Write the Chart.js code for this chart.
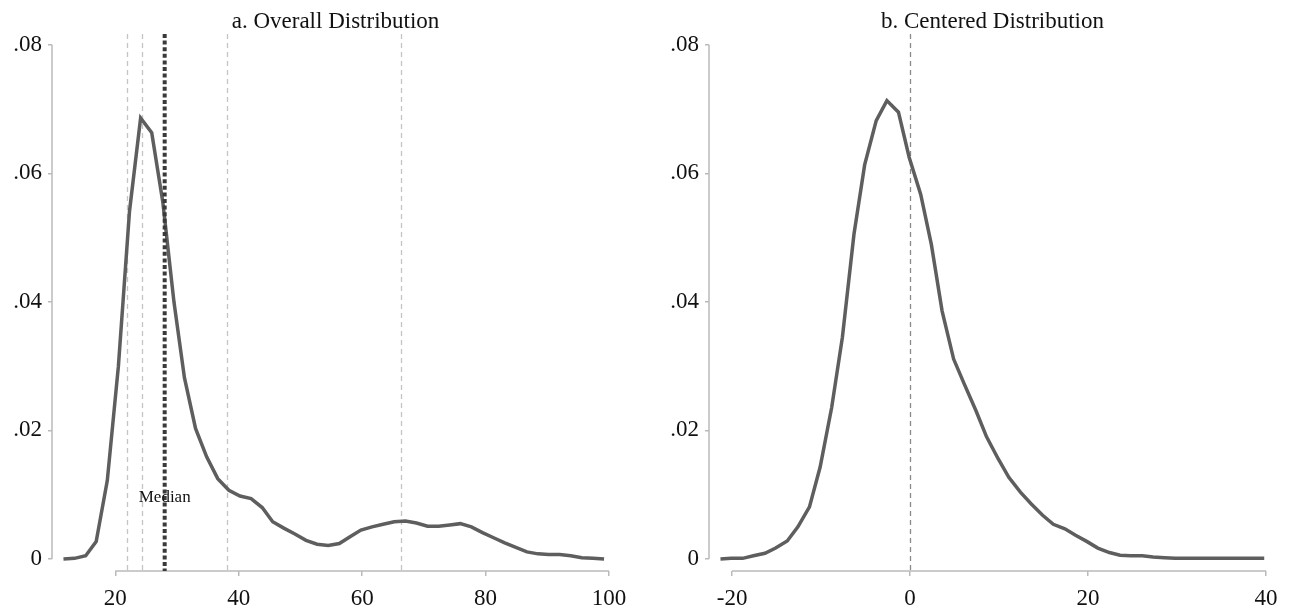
<!DOCTYPE html>
<html>
<head>
<meta charset="utf-8">
<script src="https://cdn.jsdelivr.net/npm/chart.js@4.4.0/dist/chart.umd.min.js"></script>
<style>
  html, body { margin: 0; padding: 0; background: #fff; }
  .panel { position: absolute; top: 0; width: 647px; height: 609px; }
  #left { left: 0; }
  #right { left: 647px; }
</style>
</head>
<body>
<div class="panel" id="left"><canvas id="overallChart"></canvas></div>
<div class="panel" id="right"><canvas id="centeredChart"></canvas></div>
<script>
// panel a: density over the full range
var overallX = [11.6, 13.4, 15.2, 16.9, 18.7, 20.5, 22.3, 24.1, 25.9, 27.7,
                29.5, 31.2, 33.0, 34.8, 36.6, 38.4, 40.2, 42.0, 43.8, 45.5,
                47.3, 49.1, 50.9, 52.7, 54.5, 56.3, 58.1, 59.8, 61.6, 63.4,
                65.2, 67.0, 68.8, 70.6, 72.4, 74.2, 75.9, 77.7, 79.5, 81.3,
                83.1, 84.9, 86.7, 88.5, 90.2, 92.0, 93.8, 95.6, 97.4, 99.2];
var overallY = [0.0000, 0.0001, 0.0005, 0.0027, 0.0122, 0.0300, 0.0541, 0.0686, 0.0663, 0.0555,
                0.0400, 0.0282, 0.0203, 0.0159, 0.0125, 0.0107, 0.0098, 0.0094, 0.0080, 0.0058,
                0.0048, 0.0039, 0.0029, 0.0023, 0.0021, 0.0024, 0.0035, 0.0045, 0.0050, 0.0054,
                0.0058, 0.0059, 0.0056, 0.0051, 0.0051, 0.0053, 0.0055, 0.0050, 0.0041, 0.0033,
                0.0025, 0.0018, 0.0011, 0.0008, 0.0007, 0.0007, 0.0005, 0.0002, 0.0001, 0.0000];
var overallTicks = [20, 40, 60, 80, 100];
var overallMarkers = [21.9, 24.3, 38.1, 66.3];
var overallMedian = 28.0;
var medianLabelY = 0.0096;

// panel b: density after centering
var centeredX = [-21.3, -20.1, -18.8, -17.6, -16.3, -15.1, -13.8, -12.6, -11.3, -10.1,
                 -8.8, -7.6, -6.3, -5.1, -3.8, -2.6, -1.3, -0.1, 1.2, 2.4,
                 3.6, 4.9, 6.1, 7.4, 8.6, 9.9, 11.1, 12.4, 13.6, 14.9,
                 16.1, 17.4, 18.6, 19.9, 21.1, 22.4, 23.6, 24.8, 26.1, 27.3,
                 28.6, 29.8, 31.1, 32.3, 33.6, 34.8, 36.1, 37.3, 38.6, 39.8];
var centeredY = [0.0000, 0.0001, 0.0001, 0.0005, 0.0009, 0.0017, 0.0028, 0.0050, 0.0081, 0.0143,
                 0.0236, 0.0345, 0.0505, 0.0613, 0.0682, 0.0713, 0.0695, 0.0625, 0.0567, 0.0489,
                 0.0386, 0.0311, 0.0272, 0.0231, 0.0190, 0.0156, 0.0127, 0.0104, 0.0086, 0.0068,
                 0.0054, 0.0047, 0.0037, 0.0027, 0.0017, 0.0010, 0.0006, 0.0005, 0.0005, 0.0003,
                 0.0002, 0.0001, 0.0001, 0.0001, 0.0001, 0.0001, 0.0001, 0.0001, 0.0001, 0.0001];
var centeredTicks = [-20, 0, 20, 40];
var centeredMarkers = [0];

var densityTicks = [0, 0.02, 0.04, 0.06, 0.08];
var densityTickLabels = ['0', '.02', '.04', '.06', '.08'];

var serif = '"Liberation Serif", "Times New Roman", Times, serif';

// titles, reference lines and short axis lines (stata style)
var panelDecor = {
  id: 'panelDecor',
  beforeDatasetsDraw: function(chart, args, opts) {
    var ctx = chart.ctx, area = chart.chartArea, xs = chart.scales.x;
    ctx.save();
    ctx.strokeStyle = opts.markerColor;
    ctx.lineWidth = 1.3;
    ctx.setLineDash([5, 4]);
    (opts.markers || []).forEach(function(v) {
      var px = Math.round(xs.getPixelForValue(v)) + 0.5;
      ctx.beginPath();
      ctx.moveTo(px, area.top);
      ctx.lineTo(px, area.bottom);
      ctx.stroke();
    });
    ctx.restore();
  },
  afterDatasetsDraw: function(chart, args, opts) {
    var ctx = chart.ctx, area = chart.chartArea, xs = chart.scales.x, ys = chart.scales.y;
    ctx.save();
    ctx.strokeStyle = '#bababa';
    ctx.lineWidth = 1.5;
    ctx.beginPath();
    ctx.moveTo(area.left, ys.getPixelForValue(densityTicks[0]));
    ctx.lineTo(area.left, ys.getPixelForValue(densityTicks[densityTicks.length - 1]));
    ctx.moveTo(xs.getPixelForValue(opts.ticks[0]), area.bottom);
    ctx.lineTo(xs.getPixelForValue(opts.ticks[opts.ticks.length - 1]), area.bottom);
    ctx.stroke();

    if (opts.median != null) {
      var mx = xs.getPixelForValue(opts.median);
      ctx.strokeStyle = '#3a3a3a';
      ctx.lineWidth = 4;
      ctx.setLineDash([4, 2.6]);
      ctx.beginPath();
      ctx.moveTo(mx, area.top);
      ctx.lineTo(mx, area.bottom);
      ctx.stroke();
      ctx.fillStyle = '#111';
      ctx.font = '17px ' + serif;
      ctx.textAlign = 'center';
      ctx.textBaseline = 'middle';
      ctx.fillText('Median', mx, ys.getPixelForValue(opts.medianY));
    }

    ctx.fillStyle = '#111';
    ctx.font = '23px ' + serif;
    ctx.textAlign = 'center';
    ctx.textBaseline = 'alphabetic';
    ctx.fillText(opts.title, (area.left + area.right) / 2 + 5, 27.5);
    ctx.restore();
  }
};

function makeChart(id, xs, ys, xMin, xMax, xTicks, yWidth, padRight, decor) {
  var points = xs.map(function(x, i) { return { x: x, y: ys[i] }; });
  decor.ticks = xTicks;
  return new Chart(document.getElementById(id), {
    type: 'line',
    data: {
      datasets: [{
        data: points,
        borderColor: '#5e5e5e',
        borderWidth: 3.5,
        pointRadius: 0,
        tension: 0,
        fill: false
      }]
    },
    options: {
      responsive: true,
      maintainAspectRatio: false,
      animation: false,
      layout: { padding: { left: 0, right: padRight, top: 34, bottom: 0 } },
      plugins: {
        legend: { display: false },
        tooltip: { enabled: false },
        panelDecor: decor
      },
      scales: {
        x: {
          type: 'linear',
          min: xMin,
          max: xMax,
          afterBuildTicks: function(s) { s.ticks = xTicks.map(function(v) { return { value: v }; }); },
          afterFit: function(s) { s.height = 38; },
          border: { display: false },
          grid: { drawOnChartArea: false, drawTicks: true, tickLength: 5, color: '#bababa', lineWidth: 1.5 },
          ticks: { color: '#111', font: { family: serif, size: 23 }, padding: 9, maxRotation: 0, autoSkip: false }
        },
        y: {
          min: -0.001867,
          max: 0.081664,
          afterBuildTicks: function(s) { s.ticks = densityTicks.map(function(v) { return { value: v }; }); },
          afterFit: function(s) { s.width = yWidth; },
          border: { display: false },
          grid: { drawOnChartArea: false, drawTicks: true, tickLength: 4, color: '#bababa', lineWidth: 1.5 },
          ticks: {
            color: '#111',
            font: { family: serif, size: 23 },
            padding: 6,
            callback: function(v, i) { return densityTickLabels[i]; }
          }
        }
      }
    },
    plugins: [panelDecor]
  });
}

makeChart('overallChart', overallX, overallY, 9.74, 100, overallTicks, 52, 38, {
  title: 'a. Overall Distribution',
  markers: overallMarkers,
  markerColor: '#c4c4c4',
  median: overallMedian,
  medianY: medianLabelY
});

makeChart('centeredChart', centeredX, centeredY, -22.59, 40, centeredTicks, 62, 28, {
  title: 'b. Centered Distribution',
  markers: centeredMarkers,
  markerColor: '#8a8a8a',
  median: null
});
</script>
</body>
</html>
